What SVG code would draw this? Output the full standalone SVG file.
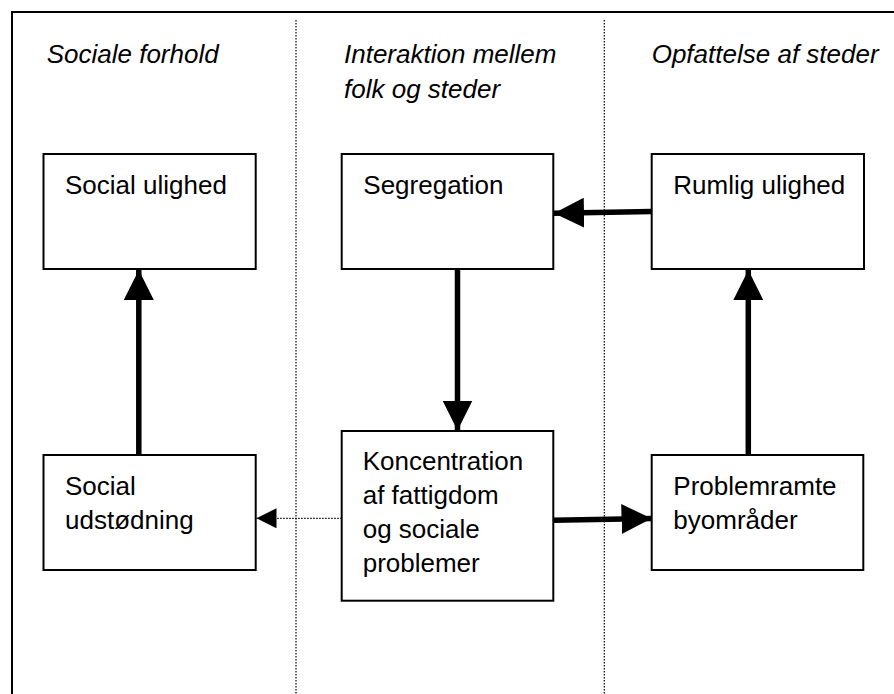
<svg xmlns="http://www.w3.org/2000/svg" width="894" height="694" viewBox="0 0 894 694">
<style>
  text { font-family: "Liberation Sans", Arial, sans-serif; font-size: 26px; fill: #000; }
  .head { font-style: italic; }
  .box { fill: #fff; stroke: #000; stroke-width: 2; }
  .frame { fill: none; stroke: #000; stroke-width: 2; }
  .divider { stroke: #000; stroke-width: 1.2; stroke-dasharray: 1.5 1.5; fill: none; }
  .thick { stroke: #000; stroke-width: 5.5; fill: none; }
  .thin { stroke: #000; stroke-width: 1.2; stroke-dasharray: 1.5 1.5; fill: none; }
</style>
<defs>
  <marker id="big" markerUnits="userSpaceOnUse" markerWidth="30" markerHeight="30" refX="30" refY="15" orient="auto" viewBox="0 0 30 30">
    <path d="M0,0 L30,15 L0,30 Z" fill="#000"/>
  </marker>
  <marker id="small" markerUnits="userSpaceOnUse" markerWidth="20" markerHeight="20" refX="20" refY="10" orient="auto" viewBox="0 0 20 20">
    <path d="M0,0 L20,10 L0,20 Z" fill="#000"/>
  </marker>
</defs>
<rect width="894" height="694" fill="#fff"/>
<g id="frame">
  <path class="frame" d="M12,694 L12,12 L894,12"/>
  <line class="divider" x1="296" y1="20" x2="296" y2="694"/>
  <line class="divider" x1="604.3" y1="20" x2="604.3" y2="694"/>
</g>
<g id="headings">
  <text class="head" x="46.7" y="63.3">Sociale forhold</text>
  <text class="head" x="344" y="63.3">Interaktion mellem</text>
  <text class="head" x="344" y="98.3">folk og steder</text>
  <text class="head" x="651.7" y="63.3">Opfattelse af steder</text>
</g>
<g id="connectors">
  <line class="thick" x1="138.8" y1="455" x2="138.8" y2="270" marker-end="url(#big)"/>
  <line class="thick" x1="457.5" y1="269" x2="457.5" y2="430.5" marker-end="url(#big)"/>
  <line class="thick" x1="651.7" y1="211.5" x2="554" y2="213.3" marker-end="url(#big)"/>
  <line class="thick" x1="553.5" y1="520.3" x2="651.5" y2="518.5" marker-end="url(#big)"/>
  <line class="thick" x1="748.3" y1="455" x2="748.3" y2="270" marker-end="url(#big)"/>
  <line class="thin" x1="341.7" y1="518.3" x2="256.5" y2="518.3" marker-end="url(#small)"/>
</g>
<g id="social-ulighed">
  <rect class="box" x="43.5" y="154" width="212.2" height="115"/>
  <text x="65" y="194.3">Social ulighed</text>
</g>
<g id="segregation">
  <rect class="box" x="341.7" y="154" width="211.6" height="115"/>
  <text x="363.3" y="194.3">Segregation</text>
</g>
<g id="rumlig-ulighed">
  <rect class="box" x="651.7" y="154" width="212.3" height="115"/>
  <text x="673.3" y="194.3">Rumlig ulighed</text>
</g>
<g id="social-udstodning">
  <rect class="box" x="43.5" y="455" width="212.2" height="115"/>
  <text x="65" y="495">Social</text>
  <text x="65" y="528.5">udstødning</text>
</g>
<g id="koncentration">
  <rect class="box" x="341.7" y="431" width="211.6" height="169.7"/>
  <text x="362.7" y="470">Koncentration</text>
  <text x="362.7" y="503.7">af fattigdom</text>
  <text x="362.7" y="538">og sociale</text>
  <text x="362.7" y="571.7">problemer</text>
</g>
<g id="problemramte">
  <rect class="box" x="651.7" y="455" width="211.6" height="115"/>
  <text x="673.3" y="495">Problemramte</text>
  <text x="673.3" y="528.5">byområder</text>
</g>
</svg>
